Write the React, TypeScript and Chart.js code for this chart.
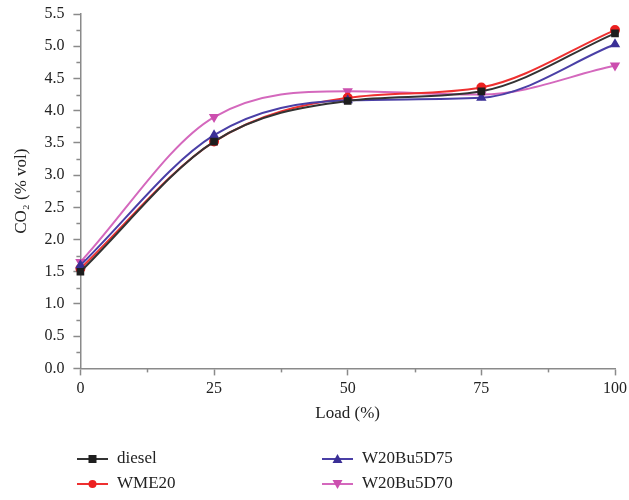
import React, { useEffect, useRef } from "react";
import { Chart, registerables } from "chart.js";

Chart.register(...registerables);

const loads = [0, 25, 50, 75, 100];
const diesel = [1.5, 3.52, 4.15, 4.3, 5.2];
const wme20 = [1.55, 3.52, 4.2, 4.36, 5.25];
const w20bu5d75 = [1.6, 3.62, 4.16, 4.2, 5.03];
const w20bu5d70 = [1.65, 3.9, 4.3, 4.25, 4.7];

const yTicksMajor = [0, 0.5, 1, 1.5, 2, 2.5, 3, 3.5, 4, 4.5, 5, 5.5];
const xTicksMajor = [0, 25, 50, 75, 100];

const FONT = "'Liberation Serif', 'DejaVu Serif', serif";
const AXIS_COLOR = "#8a8a8a";

const seriesDefs = [
  { label: "diesel", data: diesel, color: "#1e1e1e", line: "#333333", style: "rect", rot: 0 },
  { label: "W20Bu5D75", data: w20bu5d75, color: "#3a2f96", line: "#4a3fa6", style: "triangle", rot: 0 },
  { label: "WME20", data: wme20, color: "#ec2020", line: "#ee3030", style: "circle", rot: 0 },
  { label: "W20Bu5D70", data: w20bu5d70, color: "#cc4faf", line: "#d468bd", style: "triangle", rot: 180 },
];

const minorTicksPlugin = {
  id: "minorTicks",
  afterDraw(chart: any) {
    const ctx = chart.ctx;
    const x = chart.scales.x;
    const y = chart.scales.y;
    ctx.save();
    ctx.strokeStyle = AXIS_COLOR;
    ctx.lineWidth = 1.5;
    for (let v = 0.25; v < 5.5; v += 0.5) {
      const py = Math.round(y.getPixelForValue(v)) + 0.5;
      ctx.beginPath();
      ctx.moveTo(x.left - 4, py);
      ctx.lineTo(x.left, py);
      ctx.stroke();
    }
    for (let v = 12.5; v < 100; v += 25) {
      const px = Math.round(x.getPixelForValue(v)) + 0.5;
      ctx.beginPath();
      ctx.moveTo(px, y.bottom);
      ctx.lineTo(px, y.bottom + 4);
      ctx.stroke();
    }
    ctx.restore();
  },
};

const legendPlugin = {
  id: "customLegend",
  afterDraw(chart: any) {
    const ctx = chart.ctx;
    const positions = [
      { x: 77, y: 459 },
      { x: 322, y: 459 },
      { x: 77, y: 484 },
      { x: 322, y: 484 },
    ];
    ctx.save();
    chart.data.datasets.forEach((ds: any, i: number) => {
      const p = positions[i];
      ctx.strokeStyle = ds.borderColor;
      ctx.lineWidth = 2;
      ctx.beginPath();
      ctx.moveTo(p.x, p.y);
      ctx.lineTo(p.x + 31, p.y);
      ctx.stroke();
      ctx.fillStyle = ds.pointBackgroundColor;
      const cx = p.x + 15.5;
      const cy = p.y;
      ctx.beginPath();
      if (ds.pointStyle === "rect") {
        ctx.fillRect(cx - 4, cy - 4, 8, 8);
      } else if (ds.pointStyle === "circle") {
        ctx.arc(cx, cy, 4, 0, Math.PI * 2);
        ctx.fill();
      } else if (ds.pointStyle === "triangle") {
        if (ds.pointRotation === 180) {
          ctx.moveTo(cx - 5, cy - 4);
          ctx.lineTo(cx + 5, cy - 4);
          ctx.lineTo(cx, cy + 5);
        } else {
          ctx.moveTo(cx - 5, cy + 4);
          ctx.lineTo(cx + 5, cy + 4);
          ctx.lineTo(cx, cy - 5);
        }
        ctx.closePath();
        ctx.fill();
      }
      ctx.fillStyle = "#222222";
      ctx.font = `17px ${FONT}`;
      ctx.textBaseline = "middle";
      ctx.textAlign = "left";
      ctx.fillText(ds.label, p.x + 40, p.y);
    });
    ctx.restore();
  },
};

export default function App() {
  const canvasRef = useRef<HTMLCanvasElement | null>(null);

  useEffect(() => {
    document.body.style.margin = "0";
    const canvas = canvasRef.current;
    if (!canvas) return;
    const chart = new Chart(canvas, {
      type: "line",
      data: {
        datasets: seriesDefs.map((s) => ({
          label: s.label,
          data: loads.map((l, i) => ({ x: l, y: s.data[i] })),
          borderColor: s.line,
          backgroundColor: s.color,
          pointBackgroundColor: s.color,
          pointBorderColor: s.color,
          pointStyle: s.style as any,
          pointRotation: s.rot,
          pointRadius: 4,
          borderWidth: 2,
          cubicInterpolationMode: "monotone" as const,
          fill: false,
          clip: false as any,
        })),
      },
      options: {
        animation: false,
        responsive: false,
        layout: { padding: { top: 14, right: 14, bottom: 76, left: 11 } },
        plugins: {
          legend: { display: false },
          tooltip: { enabled: false },
        },
        scales: {
          x: {
            type: "linear",
            min: 0,
            max: 100,
            afterBuildTicks: (axis: any) => {
              axis.ticks = xTicksMajor.map((v) => ({ value: v }));
            },
            afterFit: (s: any) => {
              s.paddingRight = 0;
              s.paddingLeft = 0;
            },
            ticks: {
              color: "#222222",
              font: { family: FONT, size: 16 },
              padding: 4,
            },
            grid: {
              drawOnChartArea: false,
              drawTicks: true,
              tickLength: 7,
              tickColor: AXIS_COLOR,
              tickWidth: 1.5,
            },
            border: { color: AXIS_COLOR, width: 1.5 },
            title: {
              display: true,
              text: "Load (%)",
              color: "#222222",
              font: { family: FONT, size: 17 },
              padding: { top: 1, bottom: 0 },
            },
          },
          y: {
            type: "linear",
            min: 0,
            max: 5.5,
            afterBuildTicks: (axis: any) => {
              axis.ticks = yTicksMajor.map((v) => ({ value: v }));
            },
            afterFit: (s: any) => {
              s.paddingTop = 0;
              s.paddingBottom = 0;
            },
            ticks: {
              color: "#222222",
              font: { family: FONT, size: 16 },
              padding: 9,
              callback: (v: any) => Number(v).toFixed(1),
            },
            grid: {
              drawOnChartArea: false,
              drawTicks: true,
              tickLength: 7,
              tickColor: AXIS_COLOR,
              tickWidth: 1.5,
            },
            border: { color: AXIS_COLOR, width: 1.5 },
            title: {
              display: true,
              text: "CO₂ (% vol)",
              color: "#222222",
              font: { family: FONT, size: 17 },
              padding: { top: 0, bottom: 4 },
            },
          },
        },
      },
      plugins: [minorTicksPlugin, legendPlugin],
    });
    return () => chart.destroy();
  }, []);

  return (
    <div style={{ width: 629, height: 500, background: "#ffffff" }}>
      <canvas ref={canvasRef} width={629} height={500} style={{ display: "block" }} />
    </div>
  );
}
